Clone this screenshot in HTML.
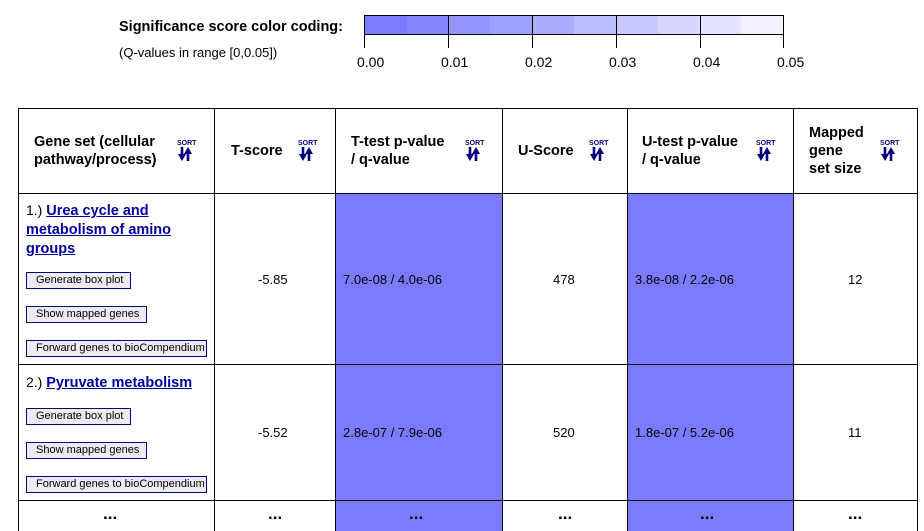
<!DOCTYPE html>
<html><head><meta charset="utf-8"><style>
body{margin:0;width:924px;height:531px;overflow:hidden;background:#fff;font-family:"Liberation Sans",Arial,sans-serif;position:relative}
.a{position:absolute;white-space:nowrap}
.h{font-weight:bold;font-size:14.5px;line-height:18px;color:#000}
.t{font-size:13px;color:#000}
.vl{position:absolute;width:1px;background:#000}
.hl{position:absolute;height:1px;background:#000}
.blue{position:absolute;background:#7b7bff}
.btn{position:absolute;height:15px;border:1px solid #000080;background:#eeeaf0;font-size:11px;line-height:15px;padding:0 0 0 9px;box-sizing:content-box;color:#000}
.lnk{color:#0000a0;font-weight:bold;text-decoration:underline;font-size:14.5px}
.sort{position:absolute;width:22px;height:24px}
.dots{font-weight:bold;font-size:17px}
</style></head><body>
<div class="a h" style="left:119px;top:18px">Significance score color coding:</div>
<div class="a t" style="left:119px;top:45px;font-size:13px">(Q-values in range [0,0.05])</div>
<div style="position:absolute;left:364px;top:15px;width:420px;height:20px;border:1px solid #000;box-sizing:border-box;display:flex">
<div style="flex:1;background:#7b7bff"></div><div style="flex:1;background:#8787ff"></div><div style="flex:1;background:#9494ff"></div><div style="flex:1;background:#a0a0ff"></div><div style="flex:1;background:#adadff"></div><div style="flex:1;background:#bbbbff"></div><div style="flex:1;background:#c9c9ff"></div><div style="flex:1;background:#d6d6ff"></div><div style="flex:1;background:#e4e4ff"></div><div style="flex:1;background:#f2f2ff"></div>
</div>
<div class="vl" style="left:364px;top:15px;height:33px"></div>
<div class="vl" style="left:448px;top:15px;height:33px"></div>
<div class="vl" style="left:532px;top:15px;height:33px"></div>
<div class="vl" style="left:616px;top:15px;height:33px"></div>
<div class="vl" style="left:700px;top:15px;height:33px"></div>
<div class="vl" style="left:783px;top:15px;height:33px"></div>
<div class="a t" style="left:357px;top:54px;font-size:14px">0.00</div>
<div class="a t" style="left:441px;top:54px;font-size:14px">0.01</div>
<div class="a t" style="left:525px;top:54px;font-size:14px">0.02</div>
<div class="a t" style="left:609px;top:54px;font-size:14px">0.03</div>
<div class="a t" style="left:693px;top:54px;font-size:14px">0.04</div>
<div class="a t" style="left:777px;top:54px;font-size:14px">0.05</div>

<div class="blue" style="left:335px;top:193px;width:167px;height:338px"></div>
<div class="blue" style="left:627px;top:193px;width:166px;height:338px"></div>

<div class="hl" style="left:18px;top:108px;width:900px"></div>
<div class="hl" style="left:18px;top:193px;width:900px"></div>
<div class="hl" style="left:18px;top:364px;width:900px"></div>
<div class="hl" style="left:18px;top:500px;width:900px"></div>
<div class="vl" style="left:18px;top:108px;height:423px"></div>
<div class="vl" style="left:214px;top:108px;height:423px"></div>
<div class="vl" style="left:335px;top:108px;height:423px"></div>
<div class="vl" style="left:502px;top:108px;height:423px"></div>
<div class="vl" style="left:627px;top:108px;height:423px"></div>
<div class="vl" style="left:793px;top:108px;height:423px"></div>
<div class="vl" style="left:917px;top:108px;height:423px"></div>

<div class="a h" style="left:34px;top:133px">Gene set (cellular<br>pathway/process)</div>
<div class="a h" style="left:231px;top:142px">T-score</div>
<div class="a h" style="left:351px;top:133px">T-test p-value<br>/ q-value</div>
<div class="a h" style="left:518px;top:142px">U-Score</div>
<div class="a h" style="left:642px;top:133px">U-test p-value<br>/ q-value</div>
<div class="a h" style="left:809px;top:124px">Mapped<br>gene<br>set size</div>

<svg width="0" height="0" style="position:absolute"><defs><g id="s"><text x="1" y="6" font-size="7" font-weight="bold" fill="#000080" font-family="Liberation Sans">SORT</text><path d="M6 8v9M12 22v-9" stroke="#000080" stroke-width="2.6"/><path d="M2 15h8l-4 7z M8 15l4-7l4 7z" fill="#000080"/></g></defs></svg>
<svg class="sort" style="left:176px;top:139px" viewBox="0 0 22 24"><use href="#s"/></svg>
<svg class="sort" style="left:297px;top:139px" viewBox="0 0 22 24"><use href="#s"/></svg>
<svg class="sort" style="left:464px;top:139px" viewBox="0 0 22 24"><use href="#s"/></svg>
<svg class="sort" style="left:588px;top:139px" viewBox="0 0 22 24"><use href="#s"/></svg>
<svg class="sort" style="left:755px;top:139px" viewBox="0 0 22 24"><use href="#s"/></svg>
<svg class="sort" style="left:879px;top:139px" viewBox="0 0 22 24"><use href="#s"/></svg>

<div class="a" style="left:26px;top:201px;font-size:14px;line-height:18px">1.) <span class="lnk">Urea cycle and</span><br><span class="lnk">metabolism of amino</span><br><span class="lnk">groups</span></div>
<div class="btn" style="left:26px;top:272px;width:94px">Generate box plot</div>
<div class="btn" style="left:26px;top:306px;width:110px">Show mapped genes</div>
<div class="btn" style="left:26px;top:340px;width:170px">Forward genes to bioCompendium</div>
<div class="a t" style="left:258px;top:272px">-5.85</div>
<div class="a t" style="left:343px;top:272px">7.0e-08 / 4.0e-06</div>
<div class="a t" style="left:553px;top:272px">478</div>
<div class="a t" style="left:635px;top:272px">3.8e-08 / 2.2e-06</div>
<div class="a t" style="left:848px;top:272px">12</div>

<div class="a" style="left:26px;top:373px;font-size:14px;line-height:18px">2.) <span class="lnk">Pyruvate metabolism</span></div>
<div class="btn" style="left:26px;top:408px;width:94px">Generate box plot</div>
<div class="btn" style="left:26px;top:442px;width:110px">Show mapped genes</div>
<div class="btn" style="left:26px;top:476px;width:170px">Forward genes to bioCompendium</div>
<div class="a t" style="left:258px;top:425px">-5.52</div>
<div class="a t" style="left:343px;top:425px">2.8e-07 / 7.9e-06</div>
<div class="a t" style="left:553px;top:425px">520</div>
<div class="a t" style="left:635px;top:425px">1.8e-07 / 5.2e-06</div>
<div class="a t" style="left:848px;top:425px">11</div>

<div class="a dots" style="left:103px;top:504px">...</div>
<div class="a dots" style="left:268px;top:504px">...</div>
<div class="a dots" style="left:409px;top:504px">...</div>
<div class="a dots" style="left:558px;top:504px">...</div>
<div class="a dots" style="left:700px;top:504px">...</div>
<div class="a dots" style="left:848px;top:504px">...</div>
</body></html>
